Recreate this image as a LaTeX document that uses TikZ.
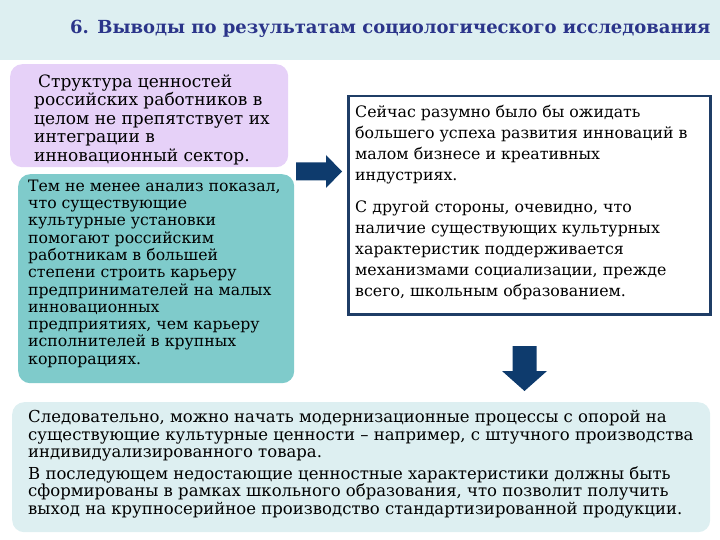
\documentclass[tikz,border=0pt]{standalone}
\usepackage{fontspec}
\setmainfont{DejaVu Serif}
\usetikzlibrary{positioning}

\definecolor{bandcyan}{HTML}{DDEFF1}
\definecolor{titleblue}{HTML}{2B358A}
\definecolor{lavender}{HTML}{E6D1F8}
\definecolor{tealbox}{HTML}{7FCBCB}
\definecolor{navyline}{HTML}{1F3D66}
\definecolor{navyarrow}{HTML}{0E3B6D}

\tikzset{
  panel/.style={anchor=north west, inner sep=0pt, rounded corners=12pt},
  paneltext/.style={anchor=west, align=left, inner sep=0pt, text=black},
  blockarrow/.style={fill=navyarrow}
}

\begin{document}
\begin{tikzpicture}[x=1pt, y=-1pt]
  \useasboundingbox (0,0) rectangle (720,540);

  % header band and title
  \fill[bandcyan] (0,0) rectangle (720,60);
  \node[anchor=west, inner sep=0pt, text=titleblue, font=\fontsize{18}{20}\bfseries] (title) at (70,29)
    {6. Выводы по результатам социологического исследования};

  % upper left: lavender box
  \node[panel, fill=lavender, minimum width=278pt, minimum height=103pt] (values) at (10,64) {};
  \node[paneltext, font=\fontsize{17}{18.5}\selectfont] (valuestext) at ([xshift=24pt, yshift=-4pt]values.west)
    {\hspace{4pt}Структура ценностей\\
     российских работников в\\
     целом не препятствует их\\
     интеграции в\\
     инновационный сектор.};

  % lower left: teal box
  \node[panel, fill=tealbox, minimum width=276pt, minimum height=209pt] (analysis) at (18,174) {};
  \node[paneltext, font=\fontsize{15.7}{17.3}\selectfont] (analysistext) at ([xshift=10pt, yshift=5pt]analysis.west)
    {Тем не менее анализ показал,\\
     что существующие\\
     культурные установки\\
     помогают российским\\
     работникам в большей\\
     степени строить карьеру\\
     предпринимателей на малых\\
     инновационных\\
     предприятиях, чем карьеру\\
     исполнителей в крупных\\
     корпорациях.};

  % right: framed box
  \node[anchor=north west, inner sep=0pt, draw=navyline, line width=2.5pt, fill=white,
        minimum width=362pt, minimum height=218pt] (expect) at (347,95) {};
  \node[paneltext, font=\fontsize{15.8}{21}\selectfont] (expecttext) at ([xshift=8pt, yshift=3pt]expect.west)
    {Сейчас разумно было бы ожидать\\
     большего успеха развития инноваций в\\
     малом бизнесе и креативных\\
     индустриях.\\[11pt]
     С другой стороны, очевидно, что\\
     наличие существующих культурных\\
     характеристик поддерживается\\
     механизмами социализации, прежде\\
     всего, школьным образованием.};

  % bottom: conclusion box
  \node[panel, fill=bandcyan, minimum width=698pt, minimum height=130pt] (result) at (12,402) {};
  \node[paneltext, font=\fontsize{16.5}{17.7}\selectfont] (resulttext) at ([xshift=16pt, yshift=3pt]result.west)
    {Следовательно, можно начать модернизационные процессы с опорой на\\
     существующие культурные ценности – например, с штучного производства\\
     индивидуализированного товара.\\[3.5pt]
     В последующем недостающие ценностные характеристики должны быть\\
     сформированы в рамках школьного образования, что позволит получить\\
     выход на крупносерийное производство стандартизированной продукции.};

  % block arrows
  \fill[blockarrow] (296,162.5) -- (326,162.5) -- (326,155) -- (342,171.5)
    -- (326,188) -- (326,180.5) -- (296,180.5) -- cycle;
  \fill[blockarrow] (512.5,346) -- (536.5,346) -- (536.5,371) -- (547,371)
    -- (524.5,391) -- (502,371) -- (512.5,371) -- cycle;
\end{tikzpicture}
\end{document}
